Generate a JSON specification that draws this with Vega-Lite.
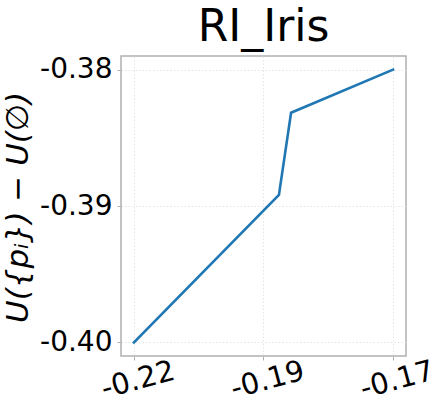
{
  "$schema": "https://vega.github.io/schema/vega-lite/v6.json",
  "width": 285,
  "height": 300,
  "autosize": {"type": "none"},
  "padding": {"left": 121, "top": 56, "right": 34, "bottom": 60},
  "background": "white",
  "config": {
    "view": {"stroke": "#b0b0b0", "strokeWidth": 1.5},
    "font": "DejaVu Sans"
  },
  "title": {
    "text": "RI_Iris",
    "font": "DejaVu Sans",
    "fontSize": 44,
    "fontWeight": "normal",
    "color": "black",
    "anchor": "middle",
    "frame": "group",
    "baseline": "alphabetic",
    "offset": -29
  },
  "data": {
    "values": [
      {"i": 0, "x": -0.218, "y": -0.3998},
      {"i": 1, "x": -0.1917, "y": -0.3892},
      {"i": 2, "x": -0.1895, "y": -0.3833},
      {"i": 3, "x": -0.171, "y": -0.3802}
    ]
  },
  "mark": {"type": "line", "color": "#1f77b4", "strokeWidth": 2.6, "strokeCap": "square"},
  "encoding": {
    "order": {"field": "i", "type": "quantitative"},
    "x": {
      "field": "x",
      "type": "quantitative",
      "scale": {"domain": [-0.22035, -0.16865], "nice": false, "zero": false},
      "axis": {
        "values": [-0.218, -0.1945, -0.171],
        "format": ".2f",
        "labelExpr": "replace(datum.label, '−', '-')",
        "title": null,
        "labelFont": "DejaVu Sans",
        "labelFontSize": 29,
        "labelColor": "black",
        "labelAngle": -15,
        "labelAlign": "center",
        "labelBaseline": "top",
        "labelFlush": false,
        "labelOverlap": false,
        "labelBound": false,
        "labelPadding": 6,
        "domain": false,
        "tickSize": 4,
        "tickColor": "#b0b0b0",
        "grid": true,
        "gridColor": "#dddddd",
        "gridDash": [1.5, 2],
        "gridWidth": 0.8
      }
    },
    "y": {
      "field": "y",
      "type": "quantitative",
      "scale": {"domain": [-0.40078, -0.37922], "nice": false, "zero": false},
      "axis": {
        "values": [-0.3998, -0.39, -0.3802],
        "format": ".2f",
        "labelExpr": "replace(datum.label, '−', '-')",
        "title": "U({pᵢ}) − U(∅)",
        "titleFont": "DejaVu Sans",
        "titleFontSize": 31,
        "titleFontStyle": "italic",
        "titleFontWeight": "normal",
        "titleColor": "black",
        "titleAngle": -90,
        "titleAlign": "center",
        "titleBaseline": "middle",
        "titleX": -103,
        "titleY": 151,
        "labelFont": "DejaVu Sans",
        "labelFontSize": 28,
        "labelColor": "black",
        "labelPadding": 5,
        "labelFlush": false,
        "labelOverlap": false,
        "domain": false,
        "tickSize": 4,
        "tickColor": "#b0b0b0",
        "grid": true,
        "gridColor": "#dddddd",
        "gridDash": [1.5, 2],
        "gridWidth": 0.8
      }
    }
  }
}
